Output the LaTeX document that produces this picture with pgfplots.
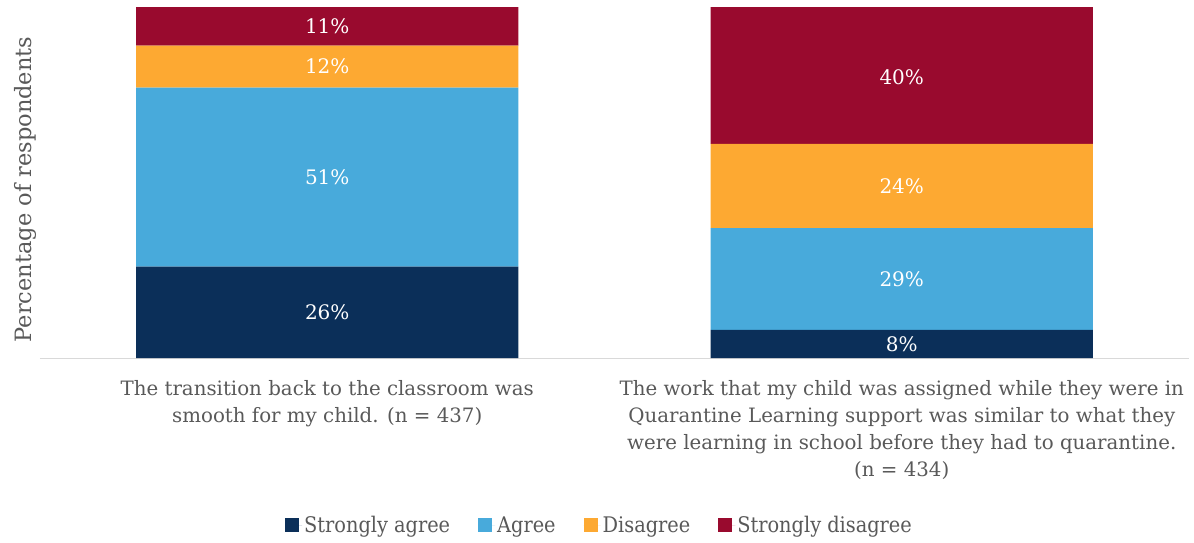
\documentclass[border=0pt]{standalone}
\usepackage{pgfplots}
\pgfplotsset{compat=1.18}
\usepackage{fontspec}
\setmainfont{DejaVu Serif}
\newfontfamily\legfont{DejaVu Serif Condensed}
\definecolor{sa}{HTML}{0B2F59}
\definecolor{ag}{HTML}{48AADB}
\definecolor{di}{HTML}{FDA932}
\definecolor{sd}{HTML}{990A2E}
\definecolor{txt}{HTML}{595959}
\pgfplotsset{
  frame/.style={width=1149pt, height=351pt, scale only axis,
    xmin=-0.5, xmax=1.5, ymin=0, ymax=100},
  sq/.style={legend image code/.code={\path (0pt,0pt) -- (17pt,0pt);\fill[#1] (0pt,-7pt) rectangle (14pt,7pt);}},
}
\begin{document}
\begin{tikzpicture}
\begin{axis}[
  frame,
  ybar stacked, bar width=382pt,
  axis lines*=left,
  x axis line style={draw=black!15, line width=1pt},
  y axis line style={draw=none},
  ytick=\empty,
  xtick={0,1}, major tick length=0pt,
  xticklabels={{The transition back to the classroom was\\smooth for my child. (n = 437)},
               {The work that my child was assigned while they were in\\Quarantine Learning support was similar to what they\\were learning in school before they had to quarantine.\\(n = 434)}},
  xticklabel style={align=center, font=\fontsize{19.8}{27}\selectfont, text=txt, yshift=-19pt},
  ylabel={Percentage of respondents},
  every axis y label/.style={at={(axis description cs:0,0.5)}, rotate=90, anchor=south, xshift=-7pt,
    font=\fontsize{22.5}{26}\selectfont, text=txt},
  legend style={at={(0.5,-0.476)}, anchor=center, xshift=-15pt, draw=none, legend columns=4,
    font=\legfont\fontsize{21.5}{25}\selectfont, text=txt,
    /tikz/every even column/.append style={column sep=26pt}},
  legend cell align=left,
]
\addplot[fill=sa, draw=none, sq=sa] coordinates {(0,26) (1,8)};
\addplot[fill=ag, draw=none, sq=ag] coordinates {(0,51) (1,29)};
\addplot[fill=di, draw=none, sq=di] coordinates {(0,12) (1,24)};
\addplot[fill=sd, draw=none, sq=sd] coordinates {(0,11) (1,40)};
\legend{Strongly agree, Agree, Disagree, Strongly disagree}
\coordinate (O) at (rel axis cs:0,0);
\end{axis}
\begin{axis}[frame, hide axis]
\addplot[draw=none, mark=none, nodes near coords, point meta=explicit symbolic,
  every node near coord/.append style={anchor=center, text=white, font=\fontsize{20}{24}\selectfont}]
  coordinates {(0,13) [26\%] (0,51.5) [51\%] (0,83) [12\%] (0,94.5) [11\%]
               (1,4) [8\%] (1,22.5) [29\%] (1,49) [24\%] (1,80) [40\%]};
\end{axis}
\pgfresetboundingbox
\path ([shift={(-40pt,-184pt)}]O) rectangle ([shift={(1154pt,358pt)}]O);
\end{tikzpicture}
\end{document}
